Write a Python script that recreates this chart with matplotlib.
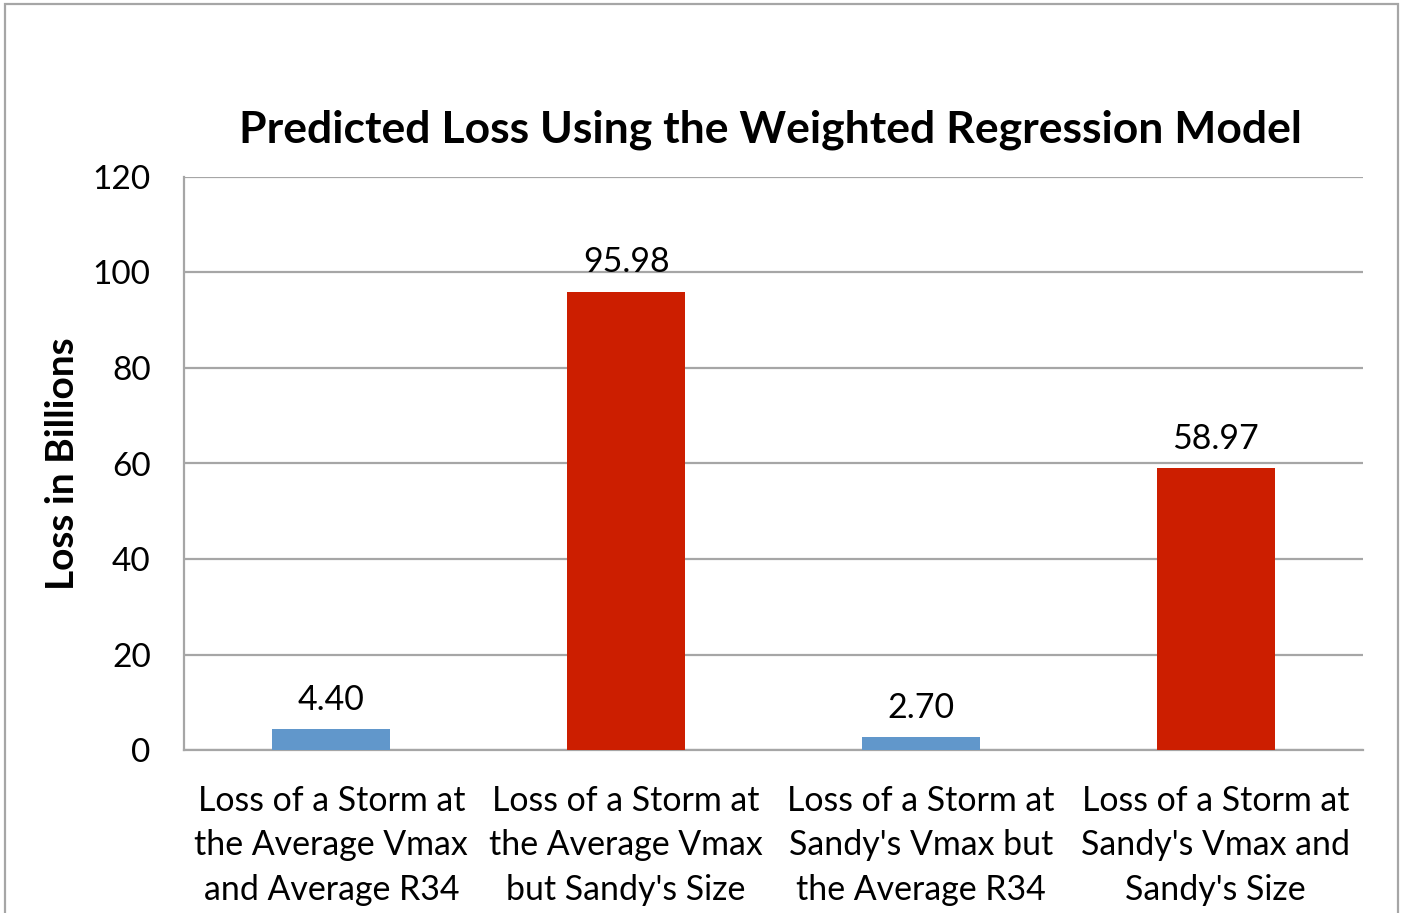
import matplotlib
matplotlib.use("Agg")
import matplotlib.pyplot as plt
from matplotlib.patches import Rectangle

categories = [
    "Loss of a Storm at\nthe Average Vmax\nand Average R34",
    "Loss of a Storm at\nthe Average Vmax\nbut Sandy's Size",
    "Loss of a Storm at\nSandy's Vmax but\nthe Average R34",
    "Loss of a Storm at\nSandy's Vmax and\nSandy's Size",
]
values = [4.40, 95.98, 2.70, 58.97]
bar_colors = ["#6197CB", "#CC1E00", "#6197CB", "#CC1E00"]
yticks = [0, 20, 40, 60, 80, 100, 120]

plt.rcParams['font.family'] = ['Lato', 'DejaVu Sans']

fig = plt.figure(figsize=(14.03, 9.13), dpi=100)
fig.patch.set_facecolor("white")

# outer chart border
fig.patches.append(Rectangle((5/1403, -0.05), (1398-5)/1403, 1.05 - 4/913,
                             transform=fig.transFigure, fill=False,
                             edgecolor="#A6A6A6", linewidth=1.6))

ax = fig.add_axes([184/1403, 1-750/913, (1363-184)/1403, (750-177)/913])
x = list(range(len(categories)))
bars = ax.bar(x, values, width=0.4, color=bar_colors, zorder=3)

ax.set_xlim(-0.5, len(categories) - 0.5)
ax.set_ylim(0, 120)
ax.set_yticks(yticks)
ax.set_yticklabels([str(t) for t in yticks], fontsize=24)
ax.set_xticks(x)
ax.set_xticklabels(categories, fontsize=24.4, linespacing=1.48)
ax.tick_params(axis='y', length=0, pad=24)
ax.tick_params(axis='x', length=0, pad=25)

ax.yaxis.grid(True, color="#A6A6A6", linewidth=1.6, zorder=0)
ax.set_axisbelow(True)
for s in ["top", "right"]:
    ax.spines[s].set_visible(False)
for s in ["left", "bottom"]:
    ax.spines[s].set_color("#A6A6A6")
    ax.spines[s].set_linewidth(1.6)

for b, v in zip(bars, values):
    ax.annotate(f"{v:.2f}", (b.get_x() + b.get_width()/2, v),
                xytext=(0, 14), textcoords="offset points",
                ha="center", va="baseline", fontsize=24.4)

ax.set_ylabel("Loss in Billions", fontsize=28, fontweight="bold", labelpad=9)

fig.text(770/1403, 1-143/913, "Predicted Loss Using the Weighted Regression Model",
         ha="center", va="baseline", fontsize=32, fontweight="bold")

fig.savefig("out.png", dpi=100, facecolor="white")
